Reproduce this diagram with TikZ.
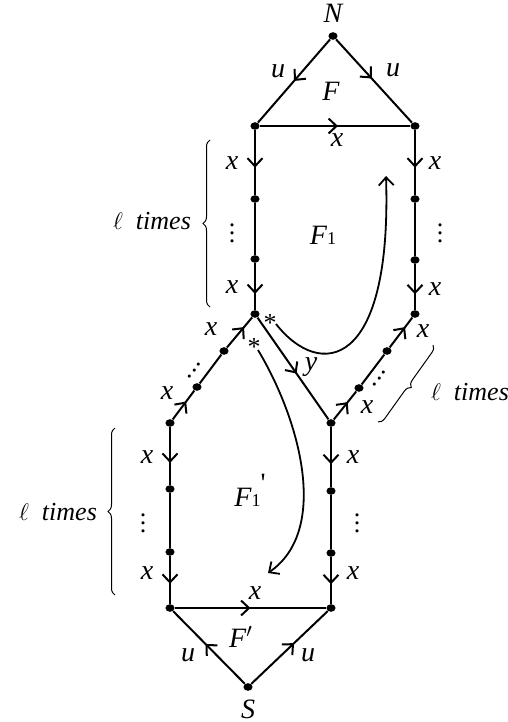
\documentclass[tikz,border=0pt]{standalone}
\usepackage{fontspec}
\setmainfont{Liberation Serif}
\usetikzlibrary{arrows.meta,decorations.markings,decorations.pathreplacing,shapes.geometric}
\tikzset{
  vtx/.style={ellipse,fill=black,inner sep=0pt,minimum width=4.6pt,minimum height=3.8pt},
  lbl/.style={inner sep=1pt,font=\fontsize{14}{16}\selectfont\itshape},
  dotsnode/.style={inner sep=0pt},
  edgeline/.style={line width=1pt},
  midarrow/.style={postaction={decorate,decoration={markings,
      mark=at position #1 with {\arrow{Straight Barb[length=4pt,width=7.5pt]}}}}},
  bendarrow/.style={line width=0.9pt,-{Straight Barb[length=4pt,width=7.5pt]}},
  timesbrace/.style={decorate,decoration={brace,amplitude=3.5pt},line width=0.5pt}
}
\begin{document}
\begin{tikzpicture}[x=0.5pt,y=-0.5pt,font=\fontsize{13}{15}\selectfont]
    \useasboundingbox (0,0) rectangle (508,722);

    % vertices
    \node[vtx] (n) at (333,36) {};
    \node[vtx] (tl) at (255,126) {};
    \node[vtx] (tr) at (415,126) {};
    \node[vtx] (l1) at (255,199) {};
    \node[vtx] (l2) at (255,259) {};
    \node[vtx] (cl) at (255,314) {};
    \node[vtx] (r1) at (415,199) {};
    \node[vtx] (r2) at (415,260) {};
    \node[vtx] (cr) at (415,314) {};
    \node[vtx] (dl2) at (224,351) {};
    \node[vtx] (dl1) at (197,387) {};
    \node[vtx] (ml) at (170,423) {};
    \node[vtx] (dr2) at (387,351) {};
    \node[vtx] (dr1) at (359,388) {};
    \node[vtx] (mr) at (331,423) {};
    \node[vtx] (ll1) at (170,489) {};
    \node[vtx] (ll2) at (170,552) {};
    \node[vtx] (bl) at (170,608) {};
    \node[vtx] (lr1) at (331,491) {};
    \node[vtx] (lr2) at (331,553) {};
    \node[vtx] (br) at (331,608) {};
    \node[vtx] (s) at (248,687) {};

    % edges
    \draw[edgeline,midarrow=0.5] (n) -- (tl);
    \draw[edgeline,midarrow=0.47] (n) -- (tr);
    \draw[edgeline,midarrow=0.52] (tl) -- (tr);
    \draw[edgeline,midarrow=0.58] (tl) -- (l1);
    \draw[edgeline] (l1) -- (l2);
    \draw[edgeline,midarrow=0.66] (l2) -- (cl);
    \draw[edgeline,midarrow=0.58] (tr) -- (r1);
    \draw[edgeline] (r1) -- (r2);
    \draw[edgeline,midarrow=0.66] (r2) -- (cr);
    \draw[edgeline,midarrow=0.62] (ml) -- (dl1);
    \draw[edgeline] (dl1) -- (dl2);
    \draw[edgeline,midarrow=0.68] (dl2) -- (cl);
    \draw[edgeline,midarrow=0.55] (cl) -- (mr);
    \draw[edgeline,midarrow=0.62] (mr) -- (dr1);
    \draw[edgeline] (dr1) -- (dr2);
    \draw[edgeline,midarrow=0.68] (dr2) -- (cr);
    \draw[edgeline,midarrow=0.62] (ml) -- (ll1);
    \draw[edgeline] (ll1) -- (ll2);
    \draw[edgeline,midarrow=0.58] (ll2) -- (bl);
    \draw[edgeline,midarrow=0.62] (mr) -- (lr1);
    \draw[edgeline] (lr1) -- (lr2);
    \draw[edgeline,midarrow=0.58] (lr2) -- (br);
    \draw[edgeline,midarrow=0.5] (bl) -- (br);
    \draw[edgeline,midarrow=0.55] (s) -- (bl);
    \draw[edgeline,midarrow=0.56] (s) -- (br);

    % bent arrows
    \coordinate (ua) at (276,324);
    \coordinate (ub) at (386,176);
    \draw[bendarrow] (ua) .. controls (320,380) and (392,370) .. (ub);
    \coordinate (la) at (258,350);
    \coordinate (lb) at (268,573);
    \draw[bendarrow] (la) .. controls (300,420) and (330,530) .. (lb);

    % braces
    \draw[timesbrace] (210,307) -- (210,140);
    \draw[timesbrace] (115,595) -- (115,428);
    \draw[timesbrace] (433,345) -- (378,422);
    \node (timesa) at (152,221) {$\ell$\enspace\textit{times}};
    \node (timesb) at (58,512) {$\ell$\enspace\textit{times}};
    \node (timesc) at (470,392) {$\ell$\enspace\textit{times}};

    % labels
    \node[lbl] (labn) at (333,13) {N};
    \node[lbl] (labs) at (248,709) {S};
    \node[lbl] (ua1) at (278,71) {u};
    \node[lbl] (ua2) at (393,70) {u};
    \node[lbl] (ub1) at (188,655) {u};
    \node[lbl] (ub2) at (308,655) {u};
    \node[lbl] (facef) at (331,91) {F};
    \node[lbl] (facef1) at (323,235) {F{\upshape\small 1}};
    \node[lbl] (facef1p) at (250,490) {F{\upshape\small 1}\raisebox{1.1ex}{\upshape\textquotesingle}};
    \node[lbl] (facefp) at (241,637) {F$'$};
    \node[lbl] (xtop) at (337,140) {x};
    \node[lbl] (xbot) at (255,593) {x};
    \node[lbl] (xl1) at (232,163) {x};
    \node[lbl] (xl2) at (232,287) {x};
    \node[dotsnode] (vl) at (232,227) {\vdots};
    \node[lbl] (xr1) at (435,163) {x};
    \node[lbl] (xr2) at (435,289) {x};
    \node[dotsnode] (vr) at (440,227) {\vdots};
    \node[lbl] (xdl2) at (211,329) {x};
    \node[lbl] (xdl1) at (167,393) {x};
    \node[dotsnode,rotate=-38] (vdl) at (198,366) {\vdots};
    \node[lbl] (ylab) at (311,367) {y};
    \node[lbl] (xdr1) at (367,407) {x};
    \node[lbl] (xdr2) at (423,331) {x};
    \node[dotsnode,rotate=-38] (vdr) at (383,374) {\vdots};
    \node[dotsnode] (stara) at (270,323) {*};
    \node[dotsnode] (starb) at (254,347) {*};
    \node[lbl] (xll1) at (147,457) {x};
    \node[lbl] (xll2) at (147,573) {x};
    \node[dotsnode] (vll) at (143,517) {\vdots};
    \node[lbl] (xlr1) at (353,457) {x};
    \node[lbl] (xlr2) at (353,573) {x};
    \node[dotsnode] (vlr) at (357,517) {\vdots};
\end{tikzpicture}
\end{document}
